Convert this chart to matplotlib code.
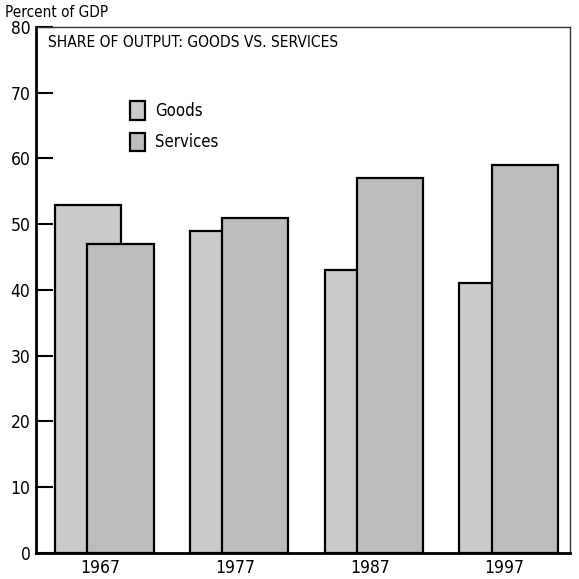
import matplotlib.pyplot as plt
import numpy as np
from matplotlib.patches import Patch

# share of GDP, percent
years = ['1967', '1977', '1987', '1997']
goods = [53, 49, 43, 41]
services = [47, 51, 57, 59]

plt.rcParams['font.family'] = ['DejaVu Sans']
plt.rcParams['font.stretch'] = 'condensed'

fig = plt.figure(figsize=(5.79, 5.79), dpi=100)
ax = fig.add_axes([0.0622, 0.0449, 0.9223, 0.9085])

x = np.arange(len(years))
w = 0.49
goods_col = '#cacaca'
serv_col = '#bcbcbc'
ax.bar(x - 0.12, goods, w, color=goods_col, edgecolor='black', linewidth=1.6, zorder=2)
ax.bar(x + 0.12, services, w, color=serv_col, edgecolor='black', linewidth=1.6, zorder=3)

ax.set_xlim(-0.507, 3.456)
ax.set_ylim(0, 80)
ax.set_yticks(range(0, 81, 10))
ax.set_xticks(x - 0.03)
ax.set_xticklabels(years)
ax.tick_params(axis='y', direction='in', length=12, width=1.5, labelsize=12.5, pad=4)
ax.tick_params(axis='x', length=0, labelsize=12.5, pad=4)

for side in ['left', 'bottom']:
    ax.spines[side].set_linewidth(2)
for side in ['top', 'right']:
    ax.spines[side].set_linewidth(1)
    ax.spines[side].set_color('#333333')

ax.text(0.022, 0.985, 'SHARE OF OUTPUT: GOODS VS. SERVICES', transform=ax.transAxes,
        fontsize=11.2, va='top', ha='left')
fig.text(0.008, 0.992, 'Percent of GDP', fontsize=11, va='top', ha='left')

handles = [Patch(facecolor=goods_col, edgecolor='black', linewidth=1.6),
           Patch(facecolor=serv_col, edgecolor='black', linewidth=1.6)]
ax.legend(handles, ['Goods', 'Services'], loc='upper left', bbox_to_anchor=(0.148, 0.887),
          frameon=False, fontsize=12, handlelength=0.9, handleheight=1.3,
          handletextpad=0.6, labelspacing=0.75)

fig.savefig('out.png', dpi=100)
